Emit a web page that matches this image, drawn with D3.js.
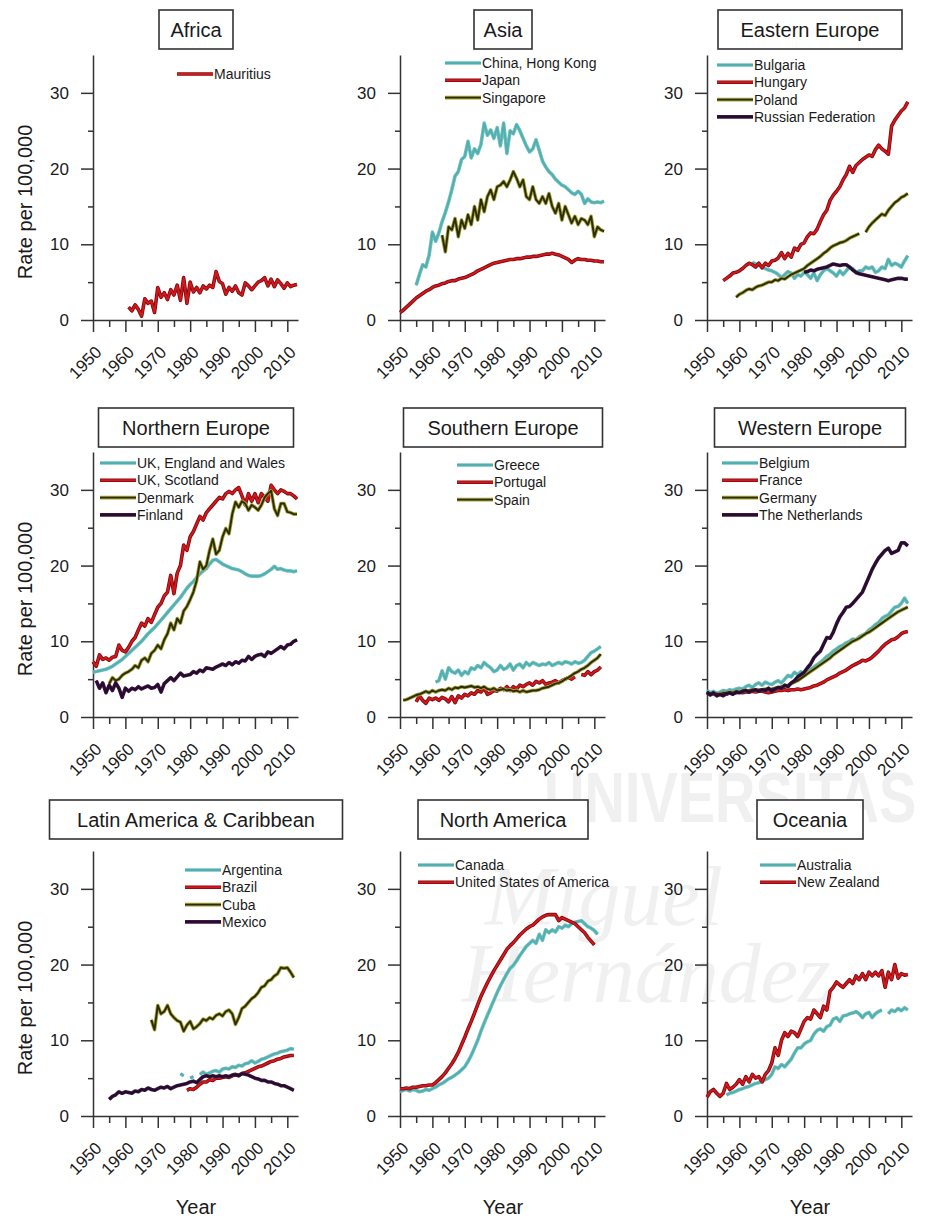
<!DOCTYPE html>
<html>
<head>
<meta charset="utf-8">
<script src="https://cdn.jsdelivr.net/npm/d3@7"></script>
<style>
body { margin: 0; background: #fff; }
svg { font-family: "Liberation Sans", Arial, sans-serif; }
</style>
</head>
<body>
<svg id="chart" width="933" height="1220"></svg>
<script>
// ---- data (rate per 100,000, one value per year from "from") ----
var mauritius = { from: 1961, values: [1.7, 1.2, 2.0, 1.4, 0.5, 2.8, 2.2, 2.5, 1.0, 4.3, 3.0, 3.6, 2.7, 4.0, 3.3, 4.6, 2.6, 5.6, 2.2, 5.0, 3.7, 4.3, 3.6, 4.5, 4.1, 4.6, 4.3, 6.4, 5.1, 4.8, 3.4, 4.3, 3.8, 4.5, 3.6, 3.3, 4.9, 4.5, 4.0, 4.5, 5.0, 5.2, 5.6, 4.5, 5.4, 4.4, 5.3, 4.8, 4.2, 4.9, 4.4, 4.6, 4.7] };

var hongKong = { from: 1955, values: [4.6, 6.0, 7.3, 7.0, 8.6, 11.6, 10.4, 11.5, 13.0, 14.2, 15.6, 17.2, 19.0, 19.6, 21.2, 21.6, 23.6, 21.4, 22.6, 22.0, 23.2, 26.0, 24.4, 25.1, 24.0, 25.4, 23.0, 26.0, 22.0, 25.0, 24.6, 25.8, 25.0, 24.0, 23.0, 22.2, 22.6, 23.8, 22.4, 21.0, 20.2, 19.6, 19.2, 18.6, 18.2, 17.8, 17.6, 17.2, 16.8, 16.6, 17.0, 16.6, 15.4, 16.0, 15.6, 15.5, 15.6, 15.5, 15.7] };
var japan = { from: 1950, values: [1.0, 1.3, 1.7, 2.1, 2.5, 2.9, 3.2, 3.5, 3.8, 4.0, 4.3, 4.5, 4.6, 4.8, 4.9, 5.1, 5.2, 5.2, 5.4, 5.5, 5.6, 5.8, 6.0, 6.2, 6.5, 6.7, 6.9, 7.1, 7.3, 7.5, 7.6, 7.7, 7.8, 7.9, 8.0, 8.0, 8.1, 8.1, 8.2, 8.3, 8.3, 8.4, 8.4, 8.5, 8.6, 8.7, 8.7, 8.8, 8.7, 8.6, 8.4, 8.2, 8.0, 7.6, 7.9, 8.1, 8.0, 8.0, 7.9, 7.9, 7.8, 7.8, 7.7, 7.7] };
var singapore = { from: 1963, values: [11.2, 9.0, 12.3, 11.9, 13.4, 11.0, 13.2, 12.1, 13.9, 12.6, 15.0, 13.2, 15.9, 14.3, 16.3, 17.2, 15.9, 17.6, 17.8, 18.3, 17.6, 18.5, 19.6, 18.7, 17.6, 18.5, 16.3, 15.9, 17.6, 15.9, 15.4, 16.3, 15.4, 16.7, 15.0, 14.1, 15.4, 13.2, 15.0, 13.9, 12.8, 13.7, 12.6, 13.4, 13.2, 12.6, 13.7, 11.0, 12.3, 11.9, 11.7] };

var bulgaria = { from: 1964, values: [7.6, 7.4, 7.2, 7.0, 6.8, 6.6, 6.5, 6.3, 6.0, 5.6, 6.0, 6.4, 6.2, 5.5, 6.0, 5.8, 6.3, 6.0, 5.5, 6.2, 5.2, 6.0, 6.5, 6.8, 6.5, 6.2, 5.8, 6.5, 6.0, 6.5, 7.0, 6.8, 6.2, 6.5, 6.5, 7.0, 6.8, 7.0, 6.3, 6.5, 7.0, 6.8, 8.0, 7.2, 7.5, 7.3, 7.0, 7.8, 8.5] };
var hungary = { from: 1955, values: [5.2, 5.5, 5.8, 6.2, 6.3, 6.5, 6.8, 7.2, 7.5, 7.3, 7.0, 7.5, 6.9, 7.5, 7.2, 7.8, 7.9, 8.2, 8.9, 8.1, 8.8, 8.3, 9.5, 9.2, 10.0, 10.2, 11.0, 11.5, 11.4, 12.0, 13.0, 13.9, 14.5, 15.8, 16.5, 17.0, 17.6, 18.5, 19.2, 20.3, 19.5, 20.4, 20.8, 21.2, 21.5, 21.8, 21.6, 22.5, 23.1, 22.6, 22.3, 21.9, 25.6, 26.4, 27.0, 27.6, 28.0, 28.8] };
var poland = { from: 1959, values: [3.0, 3.4, 3.6, 3.9, 4.1, 4.0, 4.3, 4.5, 4.6, 4.8, 5.0, 5.0, 5.3, 5.2, 5.5, 5.4, 5.7, 6.0, 6.2, 6.4, 6.6, 6.8, 7.2, 7.5, 7.8, 8.1, 8.4, 8.8, 9.1, 9.5, 9.8, 10.0, 10.2, 10.3, 10.5, 10.8, 11.0, 11.2, 11.4, null, 11.6, 12.3, 12.8, 13.2, 13.6, 14.0, 13.8, 14.5, 15.0, 15.5, 15.8, 16.2, 16.4, 16.7] };
var russia = { from: 1980, values: [6.3, 6.4, 6.6, 6.5, 6.7, 6.8, 6.9, 7.0, 7.2, 7.4, 7.3, 7.2, 7.3, 7.3, 7.0, 6.6, 6.3, 6.1, 6.0, 5.9, 5.8, 5.7, 5.6, 5.5, 5.4, 5.3, 5.2, 5.3, 5.4, 5.5, 5.5, 5.4, 5.4] };

var englandWales = { from: 1950, values: [5.9, 6.0, 6.1, 6.2, 6.3, 6.5, 6.7, 7.0, 7.3, 7.6, 8.0, 8.4, 8.8, 9.2, 9.6, 10.0, 10.5, 11.0, 11.4, 11.8, 12.3, 12.8, 13.3, 13.8, 14.3, 14.8, 15.3, 15.8, 16.4, 17.0, 17.5, 17.9, 18.4, 18.9, 19.3, 19.6, 20.2, 20.7, 20.8, 20.5, 20.2, 20.0, 19.8, 19.6, 19.5, 19.4, 19.2, 18.9, 18.7, 18.6, 18.6, 18.6, 18.7, 18.9, 19.2, 19.5, 19.9, 19.5, 19.6, 19.4, 19.3, 19.3, 19.2, 19.3] };
var scotland = { from: 1950, values: [7.3, 6.7, 8.2, 7.6, 7.8, 7.5, 7.9, 8.0, 9.5, 8.8, 8.6, 9.2, 10.0, 10.5, 11.5, 12.4, 12.0, 13.0, 12.5, 13.5, 14.5, 15.0, 16.0, 16.5, 18.7, 16.3, 19.0, 20.0, 22.7, 22.0, 23.8, 24.5, 25.5, 26.5, 26.0, 27.0, 27.5, 28.0, 28.5, 29.0, 28.8, 29.5, 29.8, 29.5, 30.0, 30.3, 29.2, 28.0, 29.5, 28.5, 29.5, 28.3, 29.5, 29.0, 28.5, 30.6, 30.0, 29.5, 30.0, 29.8, 29.5, 29.5, 29.2, 28.8] };
var denmark = { from: 1955, values: [4.4, 5.2, 4.8, 5.0, 5.5, 5.8, 6.0, 6.3, 6.8, 6.5, 7.5, 7.8, 7.3, 8.4, 8.8, 9.5, 9.0, 10.2, 11.0, 12.4, 11.5, 13.0, 12.4, 14.0, 14.6, 15.5, 16.5, 18.0, 20.5, 19.5, 20.0, 22.0, 23.5, 21.5, 22.0, 23.8, 24.9, 24.2, 26.8, 28.4, 27.7, 28.5, 28.2, 27.3, 28.0, 27.7, 27.3, 28.0, 29.0, 29.5, 29.9, 27.5, 26.6, 28.2, 28.2, 27.1, 27.0, 26.8, 26.8] };
var finland = { from: 1951, values: [4.8, 3.8, 4.5, 3.2, 4.2, 3.5, 4.5, 3.8, 2.6, 3.8, 3.4, 3.8, 3.6, 4.0, 3.7, 3.9, 4.1, 3.8, 3.9, 4.3, 3.3, 4.4, 4.8, 5.2, 4.8, 5.3, 5.8, 5.4, 5.5, 5.6, 6.0, 5.8, 6.2, 6.0, 6.5, 6.4, 6.3, 6.6, 6.8, 7.0, 6.8, 7.2, 6.9, 7.3, 7.1, 7.5, 7.4, 8.0, 7.6, 8.0, 8.2, 8.3, 8.0, 8.6, 8.4, 8.7, 9.0, 9.3, 9.0, 9.5, 9.6, 10.0, 10.2] };

var greece = { from: 1961, values: [4.6, 4.8, 6.1, 5.0, 6.5, 6.0, 5.8, 6.2, 5.5, 6.0, 5.7, 6.5, 6.3, 6.8, 6.5, 7.2, 6.8, 6.5, 6.0, 6.2, 6.8, 6.3, 6.5, 7.0, 6.2, 6.8, 7.0, 6.5, 7.2, 6.8, 7.2, 7.0, 6.8, 7.0, 6.9, 7.2, 6.8, 7.0, 7.2, 7.0, 7.3, 7.2, 7.0, 7.3, 7.1, 7.2, 7.5, 8.0, 8.5, 8.7, 9.0, 9.3] };
var portugal = { from: 1955, values: [2.0, 2.8, 2.2, 1.8, 2.5, 2.3, 2.5, 2.2, 2.6, 2.4, 2.0, 2.7, 1.9, 2.8, 2.5, 3.0, 2.8, 3.2, 3.0, 3.5, 3.3, 3.8, 3.0, 3.2, 3.5, 3.4, 3.8, 3.6, 4.0, 3.5, 4.0, 3.7, 4.2, 4.0, 4.3, 4.5, 4.2, 4.7, 4.5, 4.8, 4.3, 4.5, 4.6, 4.8, 4.5, 4.8, 5.0, 5.2, 5.0, 5.3, null, 5.6, 5.5, 6.0, 5.6, 6.0, 6.2, 6.6] };
var spain = { from: 1951, values: [2.2, 2.3, 2.5, 2.7, 2.9, 3.0, 3.2, 3.4, 3.2, 3.5, 3.3, 3.5, 3.6, 3.5, 3.8, 3.6, 3.9, 3.8, 4.0, 3.9, 4.0, 4.1, 3.9, 4.0, 3.8, 4.0, 3.7, 3.6, 3.8, 3.5, 3.6, 3.7, 3.5, 3.6, 3.4, 3.5, 3.3, 3.5, 3.3, 3.4, 3.5, 3.5, 3.6, 3.8, 3.9, 4.0, 4.2, 4.4, 4.5, 4.7, 5.0, 5.2, 5.5, 5.8, 6.0, 6.3, 6.5, 6.8, 7.2, 7.5, 7.8, 8.3] };

var belgium = { from: 1950, values: [3.5, 3.2, 3.4, 3.1, 3.3, 3.5, 3.4, 3.6, 3.5, 3.7, 3.8, 3.7, 4.0, 4.2, 3.9, 4.3, 4.5, 4.2, 4.6, 4.4, 4.3, 4.6, 4.8, 4.5, 5.0, 5.5, 5.3, 5.9, 5.6, 6.0, 5.6, 6.0, 6.3, 6.6, 6.9, 7.2, 7.6, 8.0, 8.3, 8.7, 9.0, 9.3, 9.5, 9.8, 10.0, 10.3, 10.2, 10.6, 10.8, 11.0, 11.5, 11.8, 12.2, 12.5, 13.0, 13.3, 13.5, 14.0, 14.5, 14.6, 15.0, 15.7, 15.0] };
var france = { from: 1950, values: [3.2, 3.0, 3.1, 2.9, 3.0, 3.1, 3.0, 3.2, 3.1, 3.2, 3.3, 3.2, 3.3, 3.3, 3.4, 3.3, 3.4, 3.4, 3.3, 3.2, 3.3, 3.4, 3.5, 3.5, 3.6, 3.5, 3.6, 3.6, 3.7, 3.6, 3.7, 3.8, 3.9, 4.1, 4.2, 4.4, 4.6, 4.9, 5.1, 5.3, 5.5, 5.8, 6.0, 6.2, 6.5, 6.8, 7.0, 7.2, 7.5, 7.4, 7.6, 7.9, 8.3, 8.7, 9.2, 9.6, 9.9, 10.2, 10.3, 10.6, 11.0, 11.2, 11.3] };
var germany = { from: 1952, values: [3.0, 3.1, 3.0, 3.2, 3.1, 3.3, 3.2, 3.4, 3.3, 3.5, 3.4, 3.5, 3.6, 3.5, 3.6, 3.6, 3.7, 3.6, 3.7, 3.8, 3.9, 4.0, 4.1, 4.2, 4.4, 4.6, 4.8, 5.1, 5.4, 5.7, 6.0, 6.3, 6.6, 6.9, 7.2, 7.5, 7.8, 8.2, 8.5, 8.8, 9.1, 9.4, 9.7, 10.0, 10.2, 10.4, 10.7, 11.0, 11.2, 11.5, 11.8, 12.1, 12.4, 12.7, 13.0, 13.3, 13.6, 13.9, 14.1, 14.3, 14.5] };
var netherlands = { from: 1950, values: [3.3, 2.9, 3.2, 2.8, 3.0, 2.8, 3.1, 3.2, 3.0, 3.3, 3.2, 3.4, 3.5, 3.3, 3.5, 3.6, 3.4, 3.6, 3.5, 3.8, 3.4, 3.7, 3.9, 3.8, 4.2, 4.0, 4.5, 4.8, 5.3, 5.6, 5.9, 6.5, 7.0, 7.8, 8.3, 8.7, 9.6, 10.5, 10.4, 11.2, 12.3, 13.2, 13.8, 14.5, 14.6, 15.0, 15.5, 16.0, 16.5, 17.5, 18.5, 19.5, 20.3, 21.0, 21.5, 22.0, 22.3, 21.6, 21.8, 22.0, 23.0, 23.0, 22.6] };

var argentina = { from: 1977, values: [5.6, 5.3, null, 5.0, 5.2, null, 5.5, 5.8, 5.5, 5.7, 5.9, 6.0, 5.8, 6.2, 6.3, 6.2, 6.5, 6.4, 6.7, 6.6, 6.9, 7.0, 7.3, 7.0, 7.2, 7.5, 7.6, 7.8, 8.0, 8.2, 8.3, 8.5, 8.6, 8.7, 8.9, 8.8] };
var brazil = { from: 1979, values: [3.4, 3.6, 3.5, 3.8, 4.2, 4.5, 4.5, 4.8, 4.7, 5.0, 5.0, 5.1, 5.2, 5.1, 5.3, 5.4, 5.4, 5.6, 5.7, 5.9, 6.1, 6.3, 6.5, 6.6, 6.8, 7.0, 7.2, 7.3, 7.5, 7.6, 7.8, 7.9, 8.0, 8.0] };
var cuba = { from: 1968, values: [12.7, 11.4, 14.6, 13.5, 13.8, 14.6, 13.5, 13.0, 12.6, 12.4, 11.2, 12.0, 12.5, 11.5, 11.8, 12.2, 12.8, 12.6, 13.0, 12.8, 13.3, 13.5, 13.2, 13.8, 14.0, 13.5, 12.1, 13.0, 14.2, 14.5, 15.0, 15.5, 15.8, 16.3, 17.0, 17.2, 17.8, 18.0, 18.5, 18.8, 19.6, 19.5, 19.6, 19.0, 18.3] };
var mexico = { from: 1955, values: [2.2, 2.6, 2.8, 3.2, 3.0, 3.2, 3.1, 3.0, 3.3, 3.2, 3.5, 3.4, 3.7, 3.5, 3.4, 3.6, 3.8, 3.7, 3.9, 3.6, 3.8, 4.0, 4.1, 4.2, 4.3, 4.5, 4.6, 4.4, 4.8, 5.2, 5.3, 5.2, 5.3, 5.2, 5.3, 5.2, 5.3, 5.2, 5.4, 5.5, 5.3, 5.6, 5.5, 5.4, 5.2, 5.0, 4.9, 4.7, 4.7, 4.5, 4.5, 4.3, 4.2, 4.0, 4.0, 3.8, 3.6, 3.4] };

var canada = { from: 1950, values: [3.2, 3.4, 3.5, 3.3, 3.5, 3.4, 3.2, 3.3, 3.5, 3.4, 3.6, 3.8, 4.1, 4.3, 4.6, 4.9, 5.1, 5.4, 5.7, 6.1, 6.5, 7.2, 8.0, 9.0, 10.0, 11.2, 12.3, 13.3, 14.3, 15.3, 16.3, 17.2, 18.0, 18.8, 19.5, 19.9, 20.5, 21.2, 21.8, 22.4, 22.8, 23.2, 22.8, 24.0, 23.2, 24.6, 24.2, 24.6, 24.3, 25.0, 24.8, 25.2, 25.0, 25.4, 25.6, 25.7, 25.8, 25.4, 25.0, 24.8, 24.5, 24.0] };
var usa = { from: 1950, values: [3.6, 3.6, 3.7, 3.6, 3.8, 3.8, 3.9, 4.0, 4.0, 4.1, 4.1, 4.4, 4.8, 5.2, 5.7, 6.3, 6.9, 7.6, 8.4, 9.4, 10.4, 11.5, 12.5, 13.6, 14.7, 15.8, 16.7, 17.6, 18.4, 19.2, 19.9, 20.6, 21.3, 22.0, 22.5, 22.9, 23.4, 23.9, 24.3, 24.7, 25.0, 25.2, 25.6, 26.0, 26.3, 26.5, 26.6, 26.6, 26.6, 25.8, 26.2, 26.0, 25.8, 25.6, 25.4, 25.0, 24.6, 24.2, 23.6, 23.1, 22.6] };

var australia = { from: 1956, values: [2.8, 3.0, 3.1, 3.3, 3.5, 3.6, 3.8, 3.9, 4.1, 4.3, 4.4, 4.6, 4.8, 5.0, 5.5, 6.5, 6.3, 6.8, 6.5, 7.0, 7.5, 8.3, 9.0, 9.0, 9.5, 9.8, 10.0, 10.8, 11.3, 11.5, 11.2, 11.8, 12.0, 12.8, 13.0, 12.5, 13.2, 13.3, 13.5, 13.6, 13.8, 13.5, 13.0, 13.5, 13.7, 13.0, 13.5, 13.8, 14.0, null, 13.5, 14.0, 13.8, 14.2, 13.9, 14.3, 14.0] };
var newZealand = { from: 1950, values: [2.5, 3.2, 3.5, 3.0, 2.6, 3.0, 4.3, 3.5, 3.8, 4.2, 4.8, 4.2, 5.2, 4.5, 5.5, 5.0, 5.2, 4.5, 5.5, 6.0, 7.0, 9.0, 8.0, 10.0, 11.0, 10.5, 11.2, 11.0, 10.5, 11.5, 12.5, 13.0, 12.8, 14.0, 13.5, 13.0, 14.5, 14.0, 16.5, 17.0, 17.7, 17.3, 17.0, 17.5, 18.0, 17.5, 18.5, 18.0, 18.8, 18.0, 19.0, 18.5, 19.0, 18.5, 19.2, 17.0, 19.0, 18.0, 20.0, 18.2, 18.8, 18.6, 18.7] };

var regionNames = ["Africa", "Asia", "Eastern Europe", "Northern Europe", "Southern Europe", "Western Europe", "Latin America & Caribbean", "North America", "Oceania"];
var countryNames = [
    ["Mauritius"],
    ["China, Hong Kong", "Japan", "Singapore"],
    ["Bulgaria", "Hungary", "Poland", "Russian Federation"],
    ["UK, England and Wales", "UK, Scotland", "Denmark", "Finland"],
    ["Greece", "Portugal", "Spain"],
    ["Belgium", "France", "Germany", "The Netherlands"],
    ["Argentina", "Brazil", "Cuba", "Mexico"],
    ["Canada", "United States of America"],
    ["Australia", "New Zealand"]
];
var regionSeries = [
    [mauritius],
    [hongKong, japan, singapore],
    [bulgaria, hungary, poland, russia],
    [englandWales, scotland, denmark, finland],
    [greece, portugal, spain],
    [belgium, france, germany, netherlands],
    [argentina, brazil, cuba, mexico],
    [canada, usa],
    [australia, newZealand]
];
var yTicks = [0, 10, 20, 30];
var yMinor = [5, 15, 25];
var xTicks = [1950, 1960, 1970, 1980, 1990, 2000, 2010];
var xMinor = [1955, 1965, 1975, 1985, 1995, 2005];

// ---- layout & style ----
var colLeft = [93, 400, 707];
var rowTop = [55, 452, 851];
var boxTop = [10, 408, 800];
var boxWidth = [74, 58, 184, 195, 199, 191, 293, 170, 106];
var legendPos = [[84, 19], [45, 8], [10, 10], [7, 11], [57, 13], [15, 11], [92, 19], [18, 14], [53, 14]];
var lineColors = [
    ["red"], ["teal", "red", "olive"], ["teal", "red", "olive", "purple"],
    ["teal", "red", "olive", "purple"], ["teal", "red", "olive"], ["teal", "red", "olive", "purple"],
    ["teal", "red", "olive", "purple"], ["teal", "red"], ["teal", "red"]
];
var palette = {
    teal: { edge: "#74c2c2", core: "#52afaf" },
    red: { edge: "#7e0b0e", core: "#d3171d" },
    olive: { edge: "#a6a43a", core: "#2c2c05" },
    purple: { edge: "#3a1840", core: "#270a2d" }
};
var plotW = 205, plotH = 265;

var svg = d3.select("#chart");

// faint watermark behind the panels
var wm = svg.append("g").attr("fill", "#f0f0f0");
wm.append("text").attr("transform", "translate(544,822) scale(1,1.25)")
    .attr("font-size", 56).attr("font-weight", "bold")
    .text("UNIVERSITAS");
wm.append("text").attr("x", 485).attr("y", 925)
    .attr("font-size", 84).attr("font-style", "italic")
    .attr("font-family", "'Liberation Serif', serif")
    .text("Miguel");
wm.append("text").attr("x", 462).attr("y", 1002)
    .attr("font-size", 84).attr("font-style", "italic")
    .attr("font-family", "'Liberation Serif', serif")
    .text("Hernández");

var x = d3.scaleLinear().domain([1950, 2013.3]).range([0, plotW]);
var y = d3.scaleLinear().domain([0, 35]).range([plotH, 0]);

function toPoints(s) {
    return s.values.map(function(v, i) { return { year: s.from + i, value: v }; });
}

var line = d3.line()
    .defined(function(d) { return d.value !== null; })
    .x(function(d) { return x(d.year); })
    .y(function(d) { return y(d.value); });

regionNames.forEach(function(name, r) {
    var col = r % 3, row = Math.floor(r / 3);
    var left = colLeft[col], top = rowTop[row];
    var g = svg.append("g").attr("transform", "translate(" + left + "," + top + ")");

    // title box
    var cx = left + 103;
    svg.append("rect")
        .attr("x", cx - boxWidth[r] / 2).attr("y", boxTop[row])
        .attr("width", boxWidth[r]).attr("height", 39)
        .attr("fill", "#fff").attr("stroke", "#333").attr("stroke-width", 1.6);
    svg.append("text")
        .attr("x", cx).attr("y", boxTop[row] + 27)
        .attr("text-anchor", "middle").attr("font-size", 20).attr("fill", "#1a1a1a")
        .text(name);

    // axes
    var ax = g.append("g").attr("transform", "translate(0," + plotH + ")")
        .call(d3.axisBottom(x).tickValues(xTicks).tickSize(12).tickSizeOuter(0).tickFormat(d3.format("d")));
    ax.selectAll("text")
        .attr("y", 0).attr("dy", "0.35em")
        .attr("text-anchor", "end")
        .attr("transform", "translate(5,29) rotate(-45)");
    g.append("g").attr("transform", "translate(0," + plotH + ")")
        .call(d3.axisBottom(x).tickValues(xMinor).tickSize(7).tickFormat(""))
        .select(".domain").remove();
    g.append("g")
        .call(d3.axisLeft(y).tickValues(yTicks).tickSize(12).tickSizeOuter(0).tickPadding(12));
    g.append("g")
        .call(d3.axisLeft(y).tickValues(yMinor).tickSize(5).tickFormat(""))
        .select(".domain").remove();
    g.selectAll(".domain, .tick line").attr("stroke", "#333").attr("stroke-width", 1.5);
    g.selectAll(".tick text").attr("font-size", 17).attr("fill", "#1a1a1a")
        .attr("font-family", "'Liberation Sans', Arial, sans-serif");

    // series
    regionSeries[r].forEach(function(s, i) {
        var c = palette[lineColors[r][i]];
        var pts = toPoints(s);
        g.append("path").datum(pts).attr("d", line)
            .attr("fill", "none").attr("stroke", c.edge).attr("stroke-width", 3.6)
            .attr("stroke-linejoin", "round");
        g.append("path").datum(pts).attr("d", line)
            .attr("fill", "none").attr("stroke", c.core).attr("stroke-width", 1.9)
            .attr("stroke-linejoin", "round");
    });

    // legend
    var lx = legendPos[r][0], ly = legendPos[r][1];
    countryNames[r].forEach(function(cn, i) {
        var c = palette[lineColors[r][i]];
        var yy = ly + i * 17.3;
        g.append("line").attr("x1", lx).attr("x2", lx + 36).attr("y1", yy).attr("y2", yy)
            .attr("stroke", c.edge).attr("stroke-width", 3.6);
        g.append("line").attr("x1", lx).attr("x2", lx + 36).attr("y1", yy).attr("y2", yy)
            .attr("stroke", c.core).attr("stroke-width", 1.9);
        g.append("text").attr("x", lx + 37).attr("y", yy).attr("dy", "0.35em")
            .attr("font-size", 14).attr("fill", "#1a1a1a").text(cn);
    });

    if (col === 0) {
        svg.append("text")
            .attr("transform", "translate(25," + (top + plotH - 118) + ") rotate(-90)")
            .attr("text-anchor", "middle").attr("dy", "0.35em")
            .attr("font-size", 20).attr("fill", "#1a1a1a")
            .text("Rate per 100,000");
    }
    if (row === 2) {
        svg.append("text")
            .attr("x", cx).attr("y", 1214)
            .attr("text-anchor", "middle").attr("font-size", 20).attr("fill", "#1a1a1a")
            .text("Year");
    }
});
</script>
</body>
</html>
